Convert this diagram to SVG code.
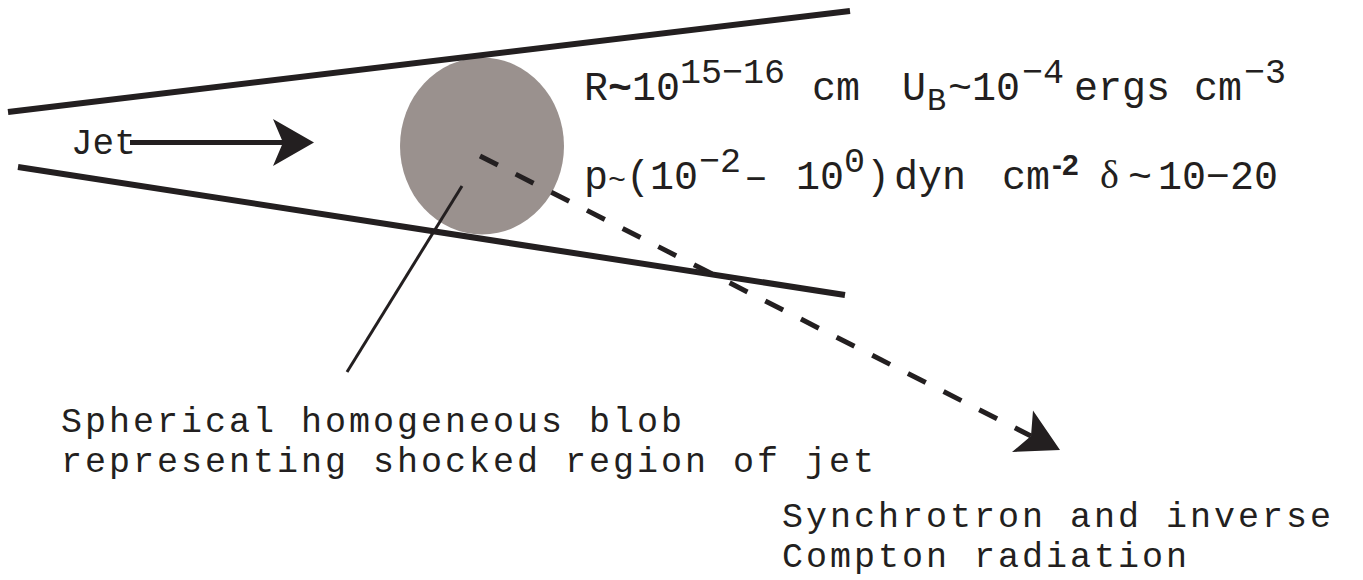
<svg xmlns="http://www.w3.org/2000/svg" width="1363" height="580" viewBox="0 0 1363 580">
  <style>
    .ln { stroke: #231f20; fill: none; stroke-linecap: butt; }
    .t { font-family: "Liberation Mono", "Courier New", monospace; fill: #231f20; }
    .m { font-size: 40px; }
    .s { font-size: 35px; }
    .b { font-size: 35px; letter-spacing: 3px; }
  </style>
  <rect width="1363" height="580" fill="#ffffff"/>
  <g id="blob">
    <ellipse cx="482" cy="146" rx="82" ry="88.5" fill="#9a918e"/>
  </g>
  <g id="jet-walls">
    <line class="ln" x1="8" y1="112" x2="850" y2="11" stroke-width="6"/>
    <line class="ln" x1="18" y1="167" x2="845" y2="295" stroke-width="6"/>
  </g>
  <g id="connectors">
    <line class="ln" x1="130" y1="142.5" x2="285" y2="142.5" stroke-width="5"/>
    <polygon points="314,142.5 273,119 283,142.5 273,166" fill="#231f20"/>
    <line class="ln" x1="462" y1="186" x2="347" y2="372" stroke-width="3"/>
    <line class="ln" x1="480" y1="156" x2="1031" y2="436" stroke-width="5" stroke-dasharray="20 20"/>
    <polygon points="1060,450 1033,410.5 1031,436 1012,452" fill="#231f20"/>
  </g>
  <g id="label-jet">
    <text class="t" x="71" y="154" font-size="36">Jet</text>
  </g>
  <g id="label-params">
    <text class="t m" y="100"><tspan x="584">R</tspan><tspan x="608" font-weight="bold">~</tspan><tspan x="632">10</tspan><tspan class="s" x="680" y="83">15−16</tspan><tspan x="812" y="100">cm</tspan><tspan x="902">U</tspan><tspan x="927" y="110" font-size="32">B</tspan><tspan x="948" y="100">~10</tspan><tspan class="s" x="1022" y="83">−4</tspan><tspan x="1074" y="100">ergs</tspan><tspan x="1194">cm</tspan><tspan class="s" x="1244" y="83">−3</tspan></text>
    <text class="t m" y="189"><tspan x="584">p</tspan><tspan x="608" font-size="30">~</tspan><tspan x="626">(</tspan><tspan x="650">10</tspan><tspan class="s" x="699" y="172">−2</tspan><tspan x="744" y="189">–</tspan><tspan x="796">10</tspan><tspan class="s" x="844" y="172">0</tspan><tspan x="866" y="189">)</tspan><tspan x="894">dyn</tspan><tspan x="1002">cm</tspan></text>
    <text x="1052" y="175" font-family="Liberation Sans, Arial, sans-serif" font-weight="bold" font-size="30" fill="#231f20">-2</text>
    <text x="1100" y="188" font-family="Liberation Serif, Times New Roman, serif" font-size="40" fill="#231f20">δ</text>
    <text class="t m" y="189"><tspan x="1128">~</tspan><tspan x="1158">10−20</tspan></text>
  </g>
  <g id="label-blob">
    <text class="t b" x="61" y="432">Spherical homogeneous blob</text>
    <text class="t b" x="61" y="472">representing shocked region of jet</text>
  </g>
  <g id="label-radiation">
    <text class="t b" x="782" y="527">Synchrotron and inverse</text>
    <text class="t b" x="782" y="567">Compton radiation</text>
  </g>
</svg>
